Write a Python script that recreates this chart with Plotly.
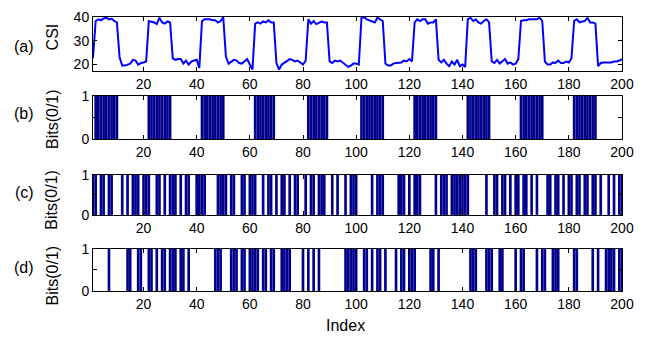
import plotly.graph_objects as go

# ---------------- data ----------------
index = list(range(1, 201))

csi = [
    22.6, 38.3, 39.0, 38.6, 39.4, 39.7, 39.0, 39.3, 38.3, 37.7,
    23.0, 19.45, 19.45, 19.9, 20.3, 21.9, 21.6, 19.9, 20.55, 20.8,
    21.2, 38.3, 38.1, 37.7, 37.0, 39.7, 37.7, 37.2, 38.1, 37.7,
    22.5, 21.9, 22.2, 22.2, 20.3, 21.6, 19.9, 21.2, 21.6, 21.9,
    18.5, 38.3, 39.0, 39.0, 39.0, 38.6, 38.6, 37.7, 38.3, 39.9,
    23.3, 20.3, 21.2, 21.9, 21.6, 20.55, 20.3, 21.2, 22.2, 19.9,
    17.8, 37.2, 37.7, 37.2, 38.1, 37.7, 38.6, 37.7, 37.7, 20.5,
    17.8, 19.9, 20.8, 21.6, 22.2, 21.9, 21.2, 21.6, 20.55, 19.9,
    21.5, 39.0, 37.2, 38.3, 37.0, 37.7, 38.1, 37.7, 37.7, 21.2,
    20.55, 21.6, 21.2, 21.6, 20.8, 19.9, 18.9, 19.45, 20.3, 20.3,
    19.9, 39.7, 39.9, 39.0, 38.6, 38.1, 37.7, 39.7, 39.0, 38.3,
    20.3, 19.45, 19.45, 20.3, 20.55, 20.55, 20.8, 21.6, 21.2, 22.2,
    21.2, 37.7, 39.0, 38.3, 39.0, 39.0, 37.2, 37.7, 37.7, 39.0,
    21.9, 20.8, 21.9, 20.3, 19.2, 21.2, 19.9, 21.9, 19.2, 19.9,
    18.9, 39.0, 39.7, 38.3, 39.0, 37.7, 37.2, 38.3, 39.0, 37.7,
    21.2, 20.55, 21.9, 20.3, 21.2, 22.2, 20.3, 20.8, 19.9, 20.3,
    22.2, 38.3, 38.6, 38.6, 39.0, 39.0, 39.0, 39.0, 39.7, 38.3,
    21.2, 19.9, 19.9, 20.8, 20.55, 21.6, 20.55, 20.55, 21.2, 20.8,
    22.6, 38.3, 39.0, 37.7, 38.1, 38.3, 39.7, 37.7, 37.7, 37.2,
    19.2, 20.55, 20.8, 20.8, 20.8, 20.8, 21.2, 21.2, 21.6, 22.2,
]

bits_b_str = (
    "0111111111" "0000000000" "0111111111" "0000000000" "0111111111"
    "0000000000" "0111111110" "0000000000" "0111111110" "0000000000"
    "0111111111" "0000000000" "0111111111" "0000000000" "0111111111"
    "0000000000" "0111111111" "0000000000" "0111111111" "0000000000"
)
bits_c_str = (
    "1101101100" "0101011101" "1100110101" "1101011001" "1110000111"
    "1011001101" "1100101101" "0110101100" "1011011100" "1010010111"
    "0000010111" "0000011101" "0111000001" "0111011111" "1100000010"
    "0110110101" "1011010100" "0110110101" "1011011011" "0100101011"
)
bits_d_str = (
    "0000001000" "0001100110" "0110101101" "1101101000" "0000001110"
    "0011101101" "1110110110" "0111100001" "0101010000" "0000011111"
    "0011010110" "1000101101" "1100000110" "1000000000" "0011100011"
    "1001100001" "0110000101" "1001110000" "0110000010" "1001111011"
)
bits_b = [int(c) for c in bits_b_str]
bits_c = [int(c) for c in bits_c_str]
bits_d = [int(c) for c in bits_d_str]

x_ticks = [20, 40, 60, 80, 100, 120, 140, 160, 180, 200]
csi_ticks = [20, 30, 40]
bit_ticks = [0, 0.5, 1]
bit_ticktext = ["0", "", "1"]

# ---------------- geometry (viewport pixels; page body has an 8px margin) ----------------
OFF = 8
W, H = 654 - OFF, 339 - OFF
left_px, right_px, top_px, bottom_px = 93, 622, 9, 291
ml = left_px - OFF
mt = top_px - OFF
mr = W - (right_px - OFF)
mb = H - (bottom_px - OFF)
plot_h = H - mt - mb
plot_w = W - ml - mr


def yf(px):
    return (H - mb - (px - OFF)) / plot_h


def xf(px):
    return (px - OFF - ml) / plot_w


BAR_COLOR = "rgb(0,0,140)"
FONT = "Liberation Sans, Arial, sans-serif"

fig = go.Figure()
fig.add_trace(go.Scatter(x=index, y=csi, mode="lines",
                         line=dict(color="rgb(0,0,255)", width=2),
                         xaxis="x", yaxis="y", showlegend=False))
for k, b in zip(["2", "3", "4"], [bits_b, bits_c, bits_d]):
    fig.add_trace(go.Bar(x=index, y=b, width=1.0,
                         marker=dict(color=BAR_COLOR, line=dict(width=0)),
                         xaxis="x" + k, yaxis="y" + k, showlegend=False))

domains = [(9, 65), (90, 135), (171.5, 212.7), (247.7, 291)]

axis_common = dict(showline=True, linecolor="black", linewidth=1,
                   mirror="ticks", ticks="inside", ticklen=4,
                   tickcolor="black", showgrid=False, zeroline=False,
                   layer="above traces",
                   tickfont=dict(family=FONT, size=14, color="black"))

layout = dict(width=W, height=H,
              margin=dict(l=ml, r=mr, t=mt, b=mb),
              paper_bgcolor="white", plot_bgcolor="white",
              font=dict(family=FONT, size=14, color="black"),
              showlegend=False)

for i, (top, bot) in enumerate(domains):
    sfx = "" if i == 0 else str(i + 1)
    layout["xaxis" + sfx] = dict(axis_common, domain=[0, 1], range=[1, 200],
                                 tickvals=x_ticks, anchor="y" + sfx)
    if i == 0:
        layout["yaxis" + sfx] = dict(axis_common, domain=[yf(bot), yf(top)],
                                     range=[17, 40], tickvals=csi_ticks,
                                     anchor="x" + sfx)
    else:
        layout["yaxis" + sfx] = dict(axis_common, domain=[yf(bot), yf(top)],
                                     range=[0, 1], tickvals=bit_ticks,
                                     ticktext=bit_ticktext, anchor="x" + sfx)

fig.update_layout(**layout)

annos = [
    ("(a)", 24, 39, 0, 16), ("CSI", 52, 30, -90, 16),
    ("(b)", 24, 108, 0, 16), ("Bits(0/1)", 52, 114, -90, 16),
    ("(c)", 24, 190, 0, 16), ("Bits(0/1)", 52, 197, -90, 16),
    ("(d)", 24, 267, 0, 16), ("Bits(0/1)", 52, 275, -90, 16),
    ("Index", 345, 326, 0, 16),
]
for text, x, y, ang, sz in annos:
    fig.add_annotation(text=text, x=xf(x), y=yf(y), xref="paper", yref="paper",
                       xanchor="center", yanchor="middle", showarrow=False,
                       textangle=ang, font=dict(family=FONT, size=sz, color="black"))

fig.write_html("out.html")
